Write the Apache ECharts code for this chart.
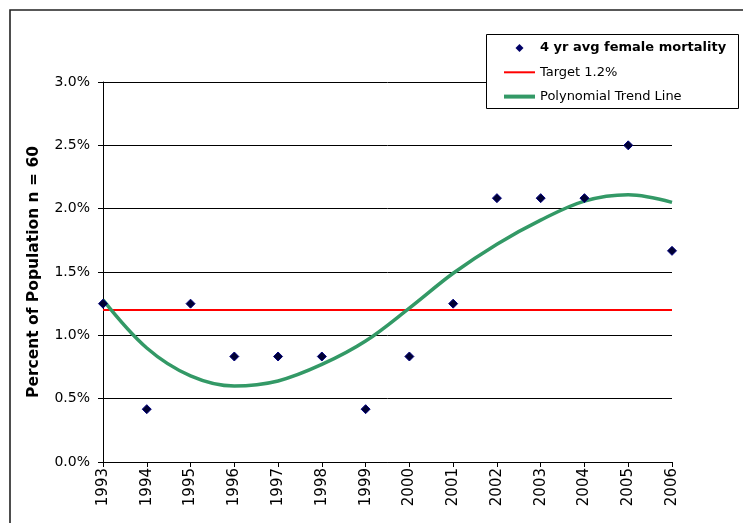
<!DOCTYPE html>
<html>
<head>
<meta charset="utf-8">
<script src="https://cdn.jsdelivr.net/npm/echarts@6/dist/echarts.min.js"></script>
<style>
html,body{margin:0;padding:0;background:#fff;}
#chart{width:743px;height:523px;}
</style>
</head>
<body>
<div id="chart"></div>
<script>
const years = ['1993','1994','1995','1996','1997','1998','1999','2000','2001','2002','2003','2004','2005','2006'];
const mortality = [1.25, 0.417, 1.25, 0.833, 0.833, 0.833, 0.417, 0.833, 1.25, 2.083, 2.083, 2.083, 2.5, 1.667];
const target = [1.2, 1.2, 1.2, 1.2, 1.2, 1.2, 1.2, 1.2, 1.2, 1.2, 1.2, 1.2, 1.2, 1.2];
const trend = [1.28, 0.90, 0.68, 0.60, 0.64, 0.77, 0.955, 1.215, 1.49, 1.72, 1.91, 2.06, 2.11, 2.05];

const WIDE = '"DejaVu Sans", sans-serif';
const chart = echarts.init(document.getElementById('chart'), null, {renderer: 'canvas'});
chart.setOption({
  animation: false,
  backgroundColor: '#fff',
  graphic: [
    {type: 'rect', z: -10, shape: {x: 10, y: 10, width: 800, height: 600}, style: {fill: '#fff', stroke: '#222', lineWidth: 1.6}},
    {type: 'rect', z: 50, shape: {x: 486.5, y: 34.5, width: 252, height: 74}, style: {fill: '#fff', stroke: '#000', lineWidth: 1}}
  ],
  grid: {left: 103, right: 71, top: 82, bottom: 61, containLabel: false},
  xAxis: {
    type: 'category', data: years, boundaryGap: false,
    axisLine: {lineStyle: {color: '#000', width: 1}},
    axisTick: {show: true, length: 5, lineStyle: {color: '#000'}},
    axisLabel: {rotate: 90, fontSize: 15, color: '#000', fontFamily: WIDE, margin: 6},
    splitLine: {show: false}
  },
  yAxis: {
    type: 'value', min: 0, max: 3, interval: 0.5,
    name: 'Percent of Population n = 60', nameLocation: 'middle', nameGap: 61,
    nameTextStyle: {fontSize: 15.5, fontWeight: 'bold', color: '#000', fontFamily: WIDE},
    axisLine: {show: true, lineStyle: {color: '#000', width: 1}},
    axisTick: {show: true, length: 5, lineStyle: {color: '#000'}},
    axisLabel: {fontSize: 14, color: '#000', fontFamily: WIDE, margin: 13, formatter: v => v.toFixed(1) + '%'},
    splitLine: {show: true, lineStyle: {color: '#000', width: 1}}
  },
  legend: {
    z: 60,
    left: 499, top: 36, orient: 'vertical',
    itemWidth: 31, itemHeight: 8, itemGap: 10.3,
    symbolKeepAspect: true,
    textStyle: {fontSize: 13, color: '#000', fontFamily: WIDE, lineHeight: 14},
    data: [
      {name: '4 yr avg female mortality', icon: 'path://M1,0L2,1L1,2L0,1Z', textStyle: {fontWeight: 'bold'}, itemStyle: {color: '#000066', borderWidth: 0}},
      {name: 'Target 1.2%', icon: 'path://M0,0H31V2H0Z', itemStyle: {color: '#ff0000', borderWidth: 0}},
      {name: 'Polynomial Trend Line', icon: 'path://M0,0H31V4H0Z', itemStyle: {color: '#339966', borderWidth: 0}}
    ]
  },
  series: [
    {
      name: 'Target 1.2%', type: 'line', data: target, symbol: 'none', z: 3,
      lineStyle: {color: '#ff0000', width: 2}, itemStyle: {color: '#ff0000'}
    },
    {
      name: 'Polynomial Trend Line', type: 'line', data: trend, symbol: 'none', smooth: 0.35, z: 4,
      lineStyle: {color: '#339966', width: 3.5}, itemStyle: {color: '#339966'}
    },
    {
      name: '4 yr avg female mortality', type: 'scatter', data: mortality, symbol: 'diamond', symbolSize: 9, z: 5,
      itemStyle: {color: '#000033', borderColor: '#000080', borderWidth: 1, opacity: 1}
    }
  ]
});
</script>
</body>
</html>
